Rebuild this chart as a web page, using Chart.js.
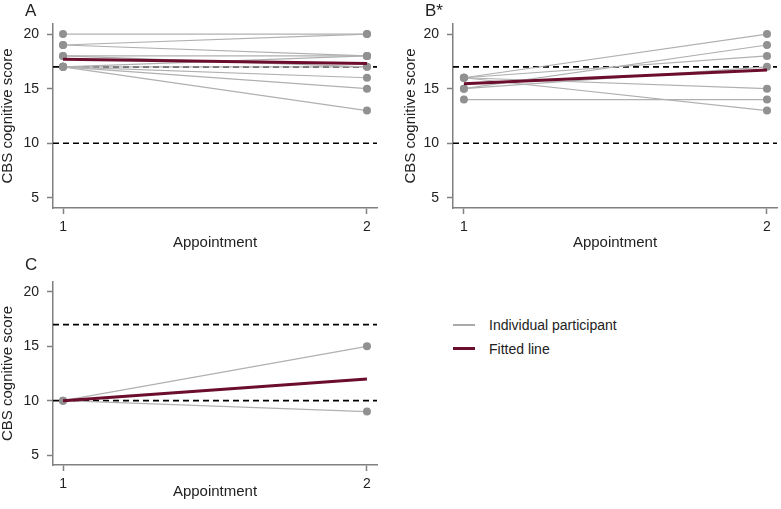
<!DOCTYPE html>
<html>
<head>
<meta charset="utf-8">
<script src="https://cdn.jsdelivr.net/npm/chart.js@4"></script>
<style>
  html, body { margin:0; padding:0; background:#fff; }
  #wrap { position:relative; width:781px; height:509px; overflow:hidden; font-family:"Liberation Sans", Arial, sans-serif; }
  canvas { position:absolute; }
  .lg-line { position:absolute; }
  .lg-text { position:absolute; font-size:14px; line-height:1; color:#222; white-space:nowrap; }
</style>
</head>
<body>
<div id="wrap">
  <canvas id="cA" width="390" height="260" style="left:0;top:0"></canvas>
  <canvas id="cB" width="391" height="260" style="left:390px;top:0"></canvas>
  <canvas id="cC" width="390" height="251" style="left:0;top:258px"></canvas>
  <div class="lg-line" style="left:453px;top:324px;width:22px;height:2px;background:#a9a9a9"></div>
  <div class="lg-text" style="left:489px;top:318px">Individual participant</div>
  <div class="lg-line" style="left:453px;top:347px;width:22px;height:3px;background:#6b0d2b"></div>
  <div class="lg-text" style="left:489px;top:342px">Fitted line</div>
</div>
<script>
// ---- data ----
const appointments = [1, 2];
const yTicks = [5, 10, 15, 20];
const cutoffs = [17, 10];

const panelA_appt1 = [20, 19, 19, 18, 18, 17, 17, 17, 17, 17];
const panelA_appt2 = [20, 20, 18, 18, 17, 18, 17, 16, 15, 13];
const panelA_fit   = [17.7, 17.3];

const panelB_appt1 = [16, 15, 16, 15, 16, 14, 16];
const panelB_appt2 = [20, 19, 18, 17, 15, 14, 13];
const panelB_fit   = [15.45, 16.7];

const panelC_appt1 = [10, 10];
const panelC_appt2 = [15, 9];
const panelC_fit   = [10, 12];

// ---- rendering ----
const FONT = '"Liberation Sans", Arial, sans-serif';
const AXIS_GRAY = '#808080';
const TEXT = '#222';

const panelLabel = {
  id: 'panelLabel',
  afterDraw(chart, args, opts) {
    const ctx = chart.ctx;
    ctx.save();
    ctx.font = '17px ' + FONT;
    ctx.fillStyle = TEXT;
    ctx.textBaseline = 'alphabetic';
    ctx.textAlign = 'left';
    ctx.fillText(opts.text, opts.x, opts.y);
    ctx.restore();
  }
};

function buildPanel(id, t1, t2, fit, cfg) {
  const X_MIN = cfg.xMin, X_MAX = cfg.xMax;
  const datasets = [];
  cutoffs.forEach(c => datasets.push({
    data: [{x: X_MIN, y: c}, {x: X_MAX, y: c}],
    borderColor: '#000', borderWidth: 1.6, borderDash: [6, 4],
    pointRadius: 0, order: 3
  }));
  t1.forEach((v, i) => datasets.push({
    data: [{x: appointments[0], y: v}, {x: appointments[1], y: t2[i]}],
    borderColor: '#b0b0b0', borderWidth: 1.2,
    pointRadius: 4, pointBackgroundColor: '#919191', pointBorderWidth: 0,
    order: 2
  }));
  datasets.push({
    data: [{x: appointments[0], y: fit[0]}, {x: appointments[1], y: fit[1]}],
    borderColor: '#6b0d2b', borderWidth: 3, pointRadius: 0, order: 1
  });

  const gridOpts = { drawOnChartArea: false, drawTicks: true, tickLength: 6, tickColor: AXIS_GRAY, tickWidth: 1.5 };
  const borderOpts = { display: true, color: AXIS_GRAY, width: 1.5 };

  new Chart(document.getElementById(id), {
    type: 'line',
    data: { datasets },
    plugins: [panelLabel],
    options: {
      responsive: false,
      animation: false,
      layout: { padding: { left: 0, top: 24, right: cfg.padRight, bottom: 0 } },
      plugins: {
        legend: { display: false },
        tooltip: { enabled: false },
        panelLabel: cfg.label
      },
      scales: {
        x: {
          type: 'linear', min: X_MIN, max: X_MAX,
          afterBuildTicks: s => { s.ticks = appointments.map(v => ({value: v})); },
          ticks: { font: {size: 14, family: FONT}, color: TEXT, padding: 5 },
          grid: gridOpts, border: borderOpts,
          title: { display: true, text: 'Appointment', color: TEXT,
                   font: {size: 15, family: FONT, lineHeight: 1}, padding: {top: 0, bottom: 9.5} },
          afterFit: s => { s.height = cfg.xAxisH; }
        },
        y: {
          type: 'linear', min: 4.08, max: 20.92,
          afterBuildTicks: s => { s.ticks = yTicks.map(v => ({value: v})); },
          ticks: { font: {size: 14, family: FONT}, color: TEXT, padding: 8 },
          grid: gridOpts, border: borderOpts,
          title: { display: true, text: 'CBS cognitive score', color: TEXT,
                   font: {size: 15, family: FONT, lineHeight: 1}, padding: {top: cfg.yTitlePad, bottom: 0} },
          afterFit: s => { s.width = cfg.yAxisW; }
        }
      }
    }
  });
}

buildPanel('cA', panelA_appt1, panelA_appt2, panelA_fit,
  { xMin: 0.967, xMax: 2.033, padRight: 13, xAxisH: 52, yAxisW: 53, yTitlePad: 0,
    label: { text: 'A', x: 25, y: 15.5 } });
buildPanel('cB', panelB_appt1, panelB_appt2, panelB_fit,
  { xMin: 0.964, xMax: 2.033, padRight: 3, xAxisH: 52, yAxisW: 63, yTitlePad: 13.5,
    label: { text: 'B*', x: 35, y: 15.5 } });
buildPanel('cC', panelC_appt1, panelC_appt2, panelC_fit,
  { xMin: 0.967, xMax: 2.033, padRight: 13, xAxisH: 44, yAxisW: 53, yTitlePad: 0,
    label: { text: 'C', x: 25, y: 12 } });
</script>
</body>
</html>
